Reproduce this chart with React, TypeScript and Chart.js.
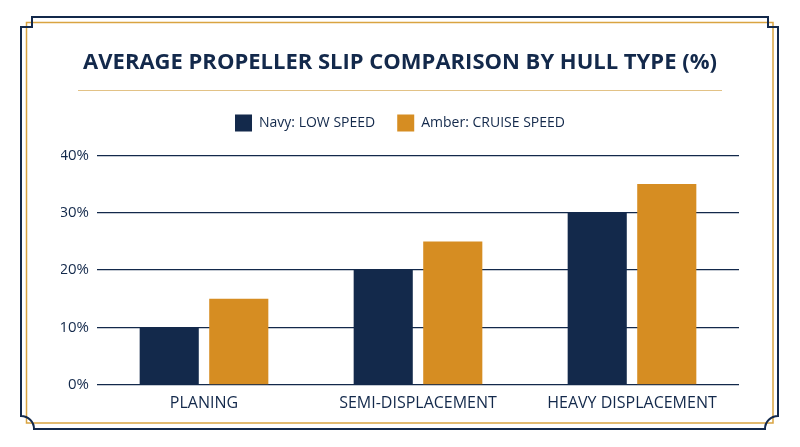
import React, { useEffect, useRef } from "react";
import { Chart, registerables } from "chart.js";

Chart.register(...registerables);

const hullTypes = ["PLANING", "SEMI-DISPLACEMENT", "HEAVY DISPLACEMENT"];
const lowSpeedSlip = [10, 20, 30];
const cruiseSpeedSlip = [15, 25, 35];
const yTicks = [0, 10, 20, 30, 40];

const NAVY = "#13294B";
const AMBER = "#D68D22";
const GOLD = "#D9A441";
const FONT = "'Open Sans', sans-serif";

const framePlugin = {
  id: "frame",
  beforeDraw(chart: Chart) {
    const ctx = chart.ctx;
    ctx.save();
    ctx.fillStyle = "#ffffff";
    ctx.fillRect(0, 0, chart.width, chart.height);

    // gold inner border
    ctx.strokeStyle = GOLD;
    ctx.lineWidth = 1.5;
    ctx.strokeRect(26.5, 22.5, 746.5, 400.5);

    // navy outer border with notched corners
    ctx.strokeStyle = NAVY;
    ctx.lineWidth = 2;
    ctx.beginPath();
    ctx.moveTo(32, 17);
    ctx.lineTo(768, 17);
    ctx.lineTo(768, 27);
    ctx.lineTo(778, 27);
    ctx.lineTo(778, 416);
    ctx.arc(778, 429, 13, -Math.PI / 2, Math.PI, true);
    ctx.lineTo(34, 429);
    ctx.arc(21, 429, 13, 0, -Math.PI / 2, true);
    ctx.lineTo(21, 27);
    ctx.lineTo(32, 27);
    ctx.closePath();
    ctx.stroke();

    // rule under title
    ctx.strokeStyle = "#E2C286";
    ctx.lineWidth = 1;
    ctx.beginPath();
    ctx.moveTo(78, 90.5);
    ctx.lineTo(722, 90.5);
    ctx.stroke();
    ctx.restore();
  },
  beforeInit(chart: any) {
    const legend = chart.legend;
    if (legend) {
      const fit = legend.fit;
      legend.fit = function () {
        fit.call(this);
        this.height += 14;
      };
    }
  },
};

const App: React.FC = () => {
  const canvasRef = useRef<HTMLCanvasElement>(null);

  useEffect(() => {
    if (!canvasRef.current) return;
    const chart = new Chart(canvasRef.current, {
      type: "bar",
      data: {
        labels: hullTypes,
        datasets: [
          {
            label: "Navy: LOW SPEED",
            data: lowSpeedSlip,
            backgroundColor: NAVY,
            categoryPercentage: 0.65,
            barPercentage: 0.85,
          },
          {
            label: "Amber: CRUISE SPEED",
            data: cruiseSpeedSlip,
            backgroundColor: AMBER,
            categoryPercentage: 0.65,
            barPercentage: 0.85,
          },
        ],
      },
      options: {
        animation: false,
        responsive: true,
        maintainAspectRatio: false,
        layout: { padding: { left: 61, right: 61, top: 0, bottom: 25 } },
        plugins: {
          title: {
            display: true,
            text: "AVERAGE PROPELLER SLIP COMPARISON BY HULL TYPE (%)",
            color: NAVY,
            font: { family: FONT, size: 22, weight: "bold", lineHeight: 1.2 },
            padding: { top: 50, bottom: 16 },
          },
          legend: {
            display: true,
            labels: {
              color: NAVY,
              boxWidth: 17,
              boxHeight: 17,
              padding: 22,
              font: { family: FONT, size: 14 },
            },
          },
          tooltip: { enabled: false },
        },
        scales: {
          x: {
            grid: { display: false, drawTicks: false },
            border: { display: false },
            ticks: {
              color: NAVY,
              padding: 9,
              font: { family: FONT, size: 16 },
            },
          },
          y: {
            min: 0,
            max: 40,
            afterFit: (scale: any) => {
              scale.width = 36;
            },
            afterBuildTicks: (scale: any) => {
              scale.ticks = yTicks.map((v) => ({ value: v }));
            },
            grid: { color: NAVY, lineWidth: 1.2, drawTicks: false },
            border: { display: false },
            ticks: {
              color: NAVY,
              padding: 8,
              font: { family: FONT, size: 15 },
              callback: (v: any) => v + "%",
            },
          },
        },
      },
      plugins: [framePlugin],
    });
    return () => chart.destroy();
  }, []);

  return (
    <div
      style={{
        position: "fixed",
        left: 0,
        top: 0,
        width: 800,
        height: 447,
        background: "#fff",
      }}
    >
      <canvas ref={canvasRef} />
    </div>
  );
};

export default App;
